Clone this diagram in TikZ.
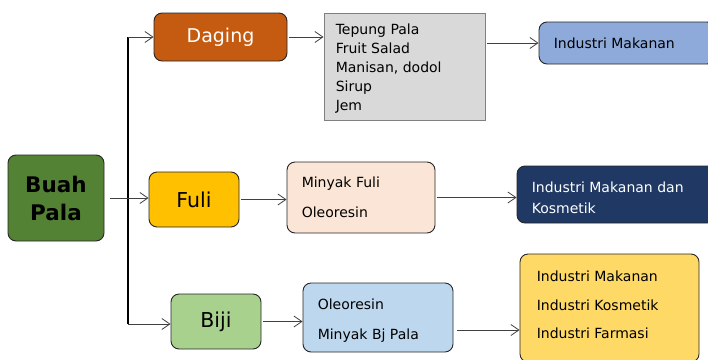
\documentclass[tikz,border=0pt]{standalone}
\usepackage{fontspec}
\setmainfont{DejaVu Sans}
\usetikzlibrary{arrows.meta}
\definecolor{cBuah}{HTML}{548235}
\definecolor{cDaging}{HTML}{C55A11}
\definecolor{cTepung}{HTML}{D9D9D9}
\definecolor{cTop}{HTML}{8EAADB}
\definecolor{cFuli}{HTML}{FFC000}
\definecolor{cMinyak}{HTML}{FBE5D6}
\definecolor{cNavy}{HTML}{203864}
\definecolor{cBiji}{HTML}{A9D18E}
\definecolor{cOleo}{HTML}{BDD7EE}
\definecolor{cYellow}{HTML}{FFD966}
\begin{document}
\begin{tikzpicture}[x=1pt,y=-1pt,
  box/.style={draw=black!85, line width=0.9pt, rounded corners=8pt, inner sep=0pt, anchor=center},
  big/.style={font=\fontsize{20.5}{24}\selectfont},
  lbl/.style={anchor=west, inner sep=0pt, align=left},
  arr/.style={draw=black!75, line width=0.8pt, -{Straight Barb[length=8pt,width=11pt]}, shorten <=2pt},
  trunk/.style={draw=black, line width=1.6pt}]
\useasboundingbox (0,0) rectangle (708,359);

% boxes
\node[box, fill=cBuah, minimum width=96pt, minimum height=86pt, align=center,
      font=\bfseries\fontsize{21.5}{28}\selectfont] (buah) at (56,198) {Buah\\Pala};
\node[box, fill=cDaging, text=white, font=\fontsize{19}{24}\selectfont, minimum width=133pt, minimum height=48pt] (daging) at (220.5,37) {Daging};
\node[box, rounded corners=0pt, draw=black!50, fill=cTepung, minimum width=161pt, minimum height=107pt] (tepung) at (404.5,66.5) {};
\node[lbl, font=\fontsize{14}{19}\selectfont] (tepungtxt) at ([xshift=12pt,yshift=-2pt]tepung.west)
  {Tepung Pala\\Fruit Salad\\Manisan, dodol\\Sirup\\Jem};
\node[box, fill=cTop, minimum width=176pt, minimum height=42pt] (indtop) at (627,43) {};
\node[lbl, font=\fontsize{14}{17}\selectfont] (indtoptxt) at ([xshift=15pt]indtop.west) {Industri Makanan};

\node[box, fill=cFuli, big, minimum width=90pt, minimum height=55pt] (fuli) at (194,199.5) {Fuli};
\node[box, fill=cMinyak, minimum width=148pt, minimum height=71pt] (minyak) at (361,197.5) {};
\node[lbl, font=\fontsize{14}{30}\selectfont] (minyaktxt) at ([xshift=15pt]minyak.west) {Minyak Fuli\\Oleoresin};
\node[box, fill=cNavy, minimum width=198pt, minimum height=57pt] (navy) at (616,194.5) {};
\node[lbl, text=white, font=\fontsize{14}{21}\selectfont] (navytxt) at ([xshift=15pt,yshift=-3pt]navy.west) {Industri Makanan dan\\Kosmetik};

\node[box, fill=cBiji, big, minimum width=90pt, minimum height=55pt] (biji) at (216,321.5) {Biji};
\node[box, fill=cOleo, minimum width=150pt, minimum height=69pt] (oleo) at (378,317.5) {};
\node[lbl, font=\fontsize{14}{30}\selectfont] (oleotxt) at ([xshift=15pt,yshift=-3pt]oleo.west) {Oleoresin\\Minyak Bj Pala};
\node[box, fill=cYellow, minimum width=179pt, minimum height=108pt] (yellow) at (609.5,308) {};
\node[lbl, font=\fontsize{14}{28.5}\selectfont] (yellowtxt) at ([xshift=17pt,yshift=3pt]yellow.west) {Industri Makanan\\Industri Kosmetik\\Industri Farmasi};

% trunk
\coordinate (jt) at (128,37);
\coordinate (jb) at (128,324);
\draw[trunk] (jt) -- (jb);
\draw[arr, shorten <=0pt] (jt) -- (daging.west);
\draw[arr, shorten <=0pt] (jb) -- (jb -| biji.west);
\draw[arr, shorten <=6pt] (buah.east) -- (buah.east -| fuli.west);

% flows
\draw[arr] (daging.east) -- (daging.east -| tepung.west);
\draw[arr] (indtop.west -| tepung.east) -- (indtop.west);
\draw[arr] (fuli.east) -- (fuli.east -| minyak.west);
\draw[arr] (minyak.east) -- (minyak.east -| navy.west);
\draw[arr] (biji.east) -- (biji.east -| oleo.west);
\draw[arr, shorten <=4pt] ([yshift=-12.5pt]oleo.east) -- ([yshift=-12.5pt]oleo.east -| yellow.west);
\end{tikzpicture}
\end{document}
